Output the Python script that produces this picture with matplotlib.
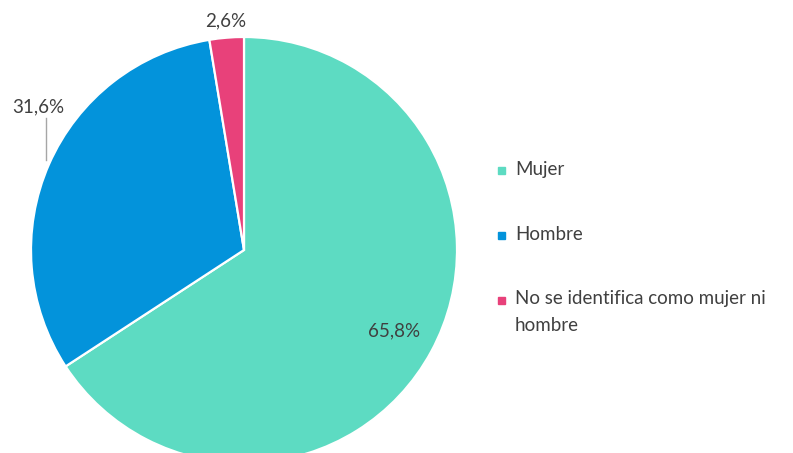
import matplotlib.pyplot as plt
import matplotlib.patches as mpatches
import numpy as np

categorias = ['Mujer', 'Hombre', 'No se identifica como mujer ni\nhombre']
porcentajes = [65.8, 31.6, 2.6]
colores = ['#5DDBC2', '#0393DB', '#E8417A']

plt.rcParams['font.family'] = ['Lato', 'DejaVu Sans']
gris = '#404040'
fs = 13.5

W, H = 793, 453
fig = plt.figure(figsize=(W / 100, H / 100), dpi=100)

# centro del pastel (244, 250) px, radio 213 px
cx, cy, r = 244, 250, 213
ax = fig.add_axes([(cx - r) / W, (H - cy - r) / H, 2 * r / W, 2 * r / H])

wedges, _ = ax.pie(porcentajes, colors=colores, startangle=90, counterclock=False,
                   radius=1, wedgeprops=dict(edgecolor='white', linewidth=1.6))
ax.set_xlim(-1, 1)
ax.set_ylim(-1, 1)
ax.axis('off')
for w in wedges:
    w.set_clip_on(False)

def fmt(v):
    return f'{v:.1f}%'.replace('.', ',')

# etiquetas
ang = []
inicio = 90
for v in porcentajes:
    span = v / 100 * 360
    ang.append(np.deg2rad(inicio - span / 2))
    inicio -= span

# Mujer (dentro)
ax.text(0.8 * np.cos(ang[0]), 0.8 * np.sin(ang[0]), fmt(porcentajes[0]),
        ha='center', va='center', fontsize=fs, color=gris)
# No se identifica (fuera)
ax.text(1.08 * np.cos(ang[2]), 1.08 * np.sin(ang[2]), fmt(porcentajes[2]),
        ha='center', va='center', fontsize=fs, color=gris, clip_on=False)
# Hombre (fuera con línea guía)
ax.text(-0.967, 0.671, fmt(porcentajes[1]), ha='center', va='center',
        fontsize=fs, color=gris, clip_on=False)
ax.plot([-0.93, -0.93], [0.62, 0.423], color='#A6A6A6', lw=1, clip_on=False)

# leyenda
ley_y = [170, 235, 300]
for cat, col, y in zip(categorias, colores, ley_y):
    fig.patches.append(mpatches.Rectangle((498 / W, (H - y - 3.5) / H), 7 / W, 7 / H,
                                          transform=fig.transFigure, color=col))
    if '\n' in cat:
        fig.text(515 / W, (H - y + 10) / H, cat, ha='left', va='top',
                 fontsize=fs, color=gris, linespacing=1.7)
    else:
        fig.text(515 / W, (H - y) / H, cat, ha='left', va='center',
                 fontsize=fs, color=gris)

fig.savefig('out.png', dpi=100)
